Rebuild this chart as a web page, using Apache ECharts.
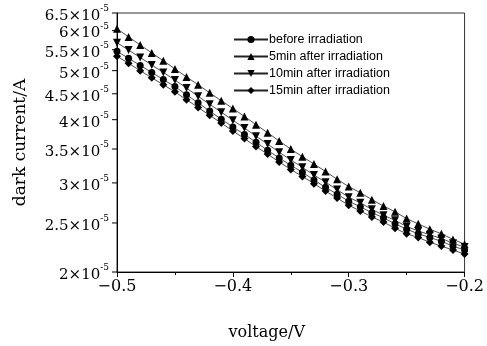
<!DOCTYPE html>
<html>
<head>
<meta charset="utf-8">
<script src="https://cdn.jsdelivr.net/npm/echarts@6/dist/echarts.min.js"></script>
<style>html,body{margin:0;padding:0;background:#fff}#c{width:487px;height:346px}</style>
</head>
<body>
<div id="c"></div>
<script>
const UNIT = 1e-5;
const voltage = [-0.5,-0.49,-0.48,-0.47,-0.46,-0.45,-0.44,-0.43,-0.42,-0.41,-0.4,-0.39,-0.38,-0.37,-0.36,-0.35,-0.34,-0.33,-0.32,-0.31,-0.3,-0.29,-0.28,-0.27,-0.26,-0.25,-0.24,-0.23,-0.22,-0.21,-0.2];
const seriesNames = ['before irradiation','5min after irradiation','10min after irradiation','15min after irradiation'];
// mantissas, units of 1e-5 A
const beforeIrr = [5.46,5.29,5.12,4.96,4.80,4.65,4.48,4.32,4.16,4.01,3.87,3.74,3.61,3.48,3.36,3.25,3.15,3.04,2.94,2.85,2.76,2.69,2.62,2.56,2.49,2.43,2.38,2.34,2.30,2.25,2.21];
const after5 = [6.05,5.83,5.62,5.42,5.23,5.04,4.86,4.69,4.52,4.36,4.21,4.06,3.91,3.77,3.63,3.50,3.38,3.27,3.16,3.05,2.95,2.87,2.78,2.70,2.63,2.55,2.49,2.43,2.38,2.32,2.27];
const after10 = [5.68,5.49,5.31,5.13,4.96,4.79,4.62,4.45,4.29,4.14,3.99,3.85,3.71,3.58,3.45,3.33,3.22,3.11,3.01,2.91,2.81,2.74,2.66,2.59,2.53,2.46,2.41,2.37,2.33,2.28,2.24];
const after15 = [5.34,5.17,5.00,4.84,4.69,4.54,4.38,4.23,4.08,3.94,3.80,3.67,3.54,3.42,3.30,3.19,3.09,2.99,2.89,2.80,2.71,2.64,2.57,2.51,2.44,2.38,2.34,2.29,2.25,2.21,2.17];
const yTicks = [2,2.5,3,3.5,4,4.5,5,5.5,6,6.5];
const yTickLabels = ['2','2.5','3','3.5','4','4.5','5','5.5','6','6.5'];
const xTickLabels = {'-0.5':'\u22120.5','-0.4':'\u22120.4','-0.3':'\u22120.3','-0.2':'\u22120.2'};

const SERIF = '"DejaVu Serif", "Liberation Serif", serif';
const chart = echarts.init(document.getElementById('c'), null, {renderer:'canvas'});

function mk(name, vals, symbol, size, rotate){
  return {
    name, type:'line', data: voltage.map((v,i)=>[v, vals[i]*UNIT]),
    symbol, symbolSize:size, symbolRotate:rotate||0, showAllSymbol:true,
    lineStyle:{color:'#222', width:0.8}, itemStyle:{color:'#000'},
    emphasis:{disabled:true}, animation:false
  };
}

chart.setOption({
  animation:false,
  grid:{left:117, right:18, top:13, bottom:70, show:true, borderColor:'#333', borderWidth:1},
  legend:{
    data:seriesNames, orient:'vertical', left:228, top:28, itemWidth:34, itemHeight:9, itemGap:4,
    textStyle:{fontFamily:'"Liberation Sans", Arial, sans-serif', fontSize:12.5, color:'#000', padding:[0,0,0,-4]},
    selectedMode:false
  },
  xAxis:{
    type:'value', min:-0.5, max:-0.2, interval:0.1,
    axisLine:{show:true, lineStyle:{color:'#000', width:1}},
    axisTick:{show:true, length:5, inside:false, lineStyle:{color:'#000'}},
    minorTick:{show:true, splitNumber:2, length:3, lineStyle:{color:'#000'}},
    splitLine:{show:false},
    axisLabel:{margin:7, fontFamily:SERIF, fontSize:16, color:'#000',
      formatter:v=>xTickLabels[(Math.round(v*10)/10).toString()] || ''},
    name:'voltage/V', nameLocation:'middle', nameGap:53,
    nameTextStyle:{fontFamily:SERIF, fontSize:16, color:'#000', padding:[0,48,0,0]}
  },
  yAxis:{
    type:'log', logBase:10, min:2*UNIT, max:6.5*UNIT,
    axisLine:{show:true, lineStyle:{color:'#000', width:1}},
    axisTick:{show:false}, axisLabel:{show:false}, splitLine:{show:false}, minorTick:{show:false},
    name:'dark current/A', nameLocation:'middle', nameGap:88, nameRotate:90,
    nameTextStyle:{fontFamily:SERIF, fontSize:17, color:'#000'}
  },
  series:[
    mk(seriesNames[0], beforeIrr, 'circle', 7),
    mk(seriesNames[1], after5, 'triangle', 8),
    mk(seriesNames[2], after10, 'triangle', 8, 180),
    mk(seriesNames[3], after15, 'diamond', 8),
    {
      type:'custom', coordinateSystem:'cartesian2d', clip:false, silent:true, animation:false,
      data: yTicks.map((t,i)=>[-0.5, t*UNIT, i]),
      renderItem:function(params, api){
        const p = api.coord([api.value(0), api.value(1)]);
        const lbl = yTickLabels[api.value(2)];
        return {type:'group', children:[
          {type:'line', shape:{x1:p[0]-5, y1:p[1], x2:p[0], y2:p[1]}, style:{stroke:'#000', lineWidth:1}},
          {type:'text', x:p[0]-8, y:p[1]+1, style:{
            text:'{m|'+lbl+'\u00d710}{e|-5}', align:'right', verticalAlign:'middle',
            rich:{
              m:{fontFamily:SERIF, fontSize:15, fill:'#000', lineHeight:19, verticalAlign:'bottom'},
              e:{fontFamily:SERIF, fontSize:9, fill:'#000', lineHeight:19, verticalAlign:'top'}
            }
          }}
        ]};
      }
    }
  ]
});
</script>
</body>
</html>
